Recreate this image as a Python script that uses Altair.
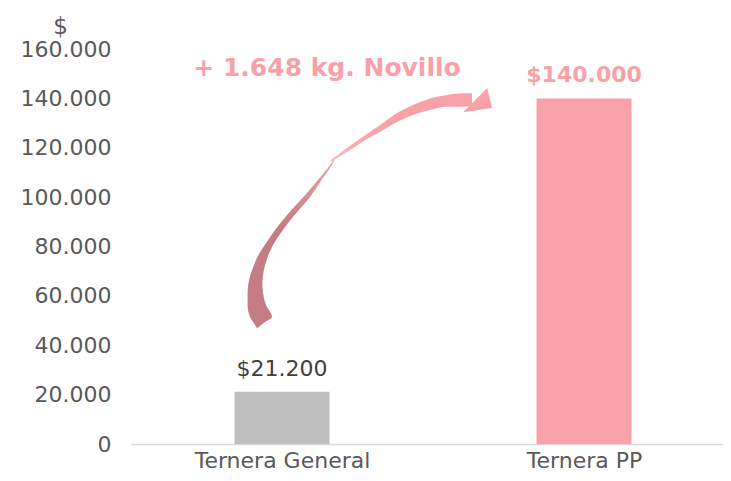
import altair as alt
import pandas as pd

# ---- chart data ----
categories = ["Ternera General", "Ternera PP"]
values = [21200, 140000]
bar_colors = ["#BFBFBF", "#F9A1A9"]
y_ticks = [0, 20000, 40000, 60000, 80000, 100000, 120000, 140000, 160000]

annotation_text = ["+ 1.648 kg. Novillo"]
annotation_x = [0.649]
annotation_y = [149000]

# curved arrow, lower (rising) part: for each $ level, left / right edge (category units)
arrow_low_y = [47000, 49400, 51400, 56300, 61200, 65200, 70500, 74500, 78600, 82600,
               86700, 90700, 94800, 100100, 106900, 113000, 115000]
arrow_low_l = [0.417, 0.404, 0.394, 0.386, 0.386, 0.389, 0.401, 0.414, 0.432, 0.454,
               0.477, 0.503, 0.531, 0.571, 0.619, 0.659, 0.671]
arrow_low_r = [0.419, 0.444, 0.467, 0.447, 0.437, 0.435, 0.440, 0.449, 0.462, 0.480,
               0.503, 0.528, 0.556, 0.593, 0.631, 0.665, 0.674]
# upper (flattening) part: for each x, top / bottom edge in $
arrow_up_x = [0.662, 0.715, 0.768, 0.825, 0.881, 0.934, 0.990, 1.046, 1.099, 1.129]
arrow_up_top = [115100, 119900, 124500, 129200, 134100, 137300, 140000, 141400, 142100, 142100]
arrow_up_bot = [114300, 118300, 122500, 126500, 130400, 133300, 135300, 136600, 136600, 136900]
head_x = [1.146]
head_y = [139300]

FONT = "DejaVu Sans"
PINK = "#F9A1A9"
DARK = "#C47D82"
AXIS_GREY = "#595959"
X_MAX = 1.96

bars = pd.DataFrame({
    "cat": categories,
    "value": values,
    "pos": [i + 0.5 for i in range(len(categories))],
    "color": bar_colors,
    "label": ["$" + f"{v:,}".replace(",", ".") for v in values],
})
low = pd.DataFrame({"y": arrow_low_y, "l": arrow_low_l, "r": arrow_low_r})
up = pd.DataFrame({"x": arrow_up_x, "top": arrow_up_top, "bot": arrow_up_bot})
ann = pd.DataFrame({"x": annotation_x, "y": annotation_y, "t": annotation_text})
head = pd.DataFrame({"x": head_x, "y": head_y})

xscale = alt.Scale(domain=[0, X_MAX], nice=False, zero=False, padding=0)
yscale = alt.Scale(domain=[0, 160000], nice=False, padding=0)

label_expr_x = f"datum.value < 1 ? '{categories[0]}' : '{categories[1]}'"

base = alt.Chart(bars)

bar_layer = base.mark_bar(size=95).encode(
    x=alt.X("pos:Q", scale=xscale,
            axis=alt.Axis(values=[0.5, 1.5], labelExpr=label_expr_x, grid=False, ticks=False,
                          domainColor="#D9D9D9", domainWidth=1.5, labelFontSize=22,
                          labelColor=AXIS_GREY, labelFont=FONT, labelPadding=6,
                          labelFlush=False),
            title=None),
    y=alt.Y("value:Q", scale=yscale,
            axis=alt.Axis(values=y_ticks,
                          labelExpr="replace(format(datum.value, ','), ',', '.')",
                          grid=False, domain=False, ticks=False, labelFontSize=22,
                          labelColor=AXIS_GREY, labelFont=FONT, labelPadding=20,
                          title="$", titleAngle=0, titleX=-71, titleY=-23,
                          titleAlign="center", titleBaseline="middle",
                          titleFontWeight="normal", titleFontSize=23,
                          titleColor=AXIS_GREY, titleFont=FONT)),
    color=alt.Color("color:N", scale=None),
)

lab_general = base.mark_text(dy=-16, baseline="alphabetic", fontSize=22, font=FONT,
                             color="#404040").encode(
    x=alt.X("pos:Q", scale=xscale), y=alt.Y("value:Q", scale=yscale), text="label:N"
).transform_filter(alt.datum.cat == categories[0])

lab_pp = base.mark_text(dy=-16, baseline="alphabetic", fontSize=22, font=FONT,
                        fontWeight="bold", color=PINK).encode(
    x=alt.X("pos:Q", scale=xscale), y=alt.Y("value:Q", scale=yscale), text="label:N"
).transform_filter(alt.datum.cat == categories[1])

low_grad = alt.LinearGradient(
    gradient="linear",
    stops=[alt.GradientStop(color=DARK, offset=0),
           alt.GradientStop(color=DARK, offset=0.6),
           alt.GradientStop(color="#E6A4A9", offset=1)],
    x1=0, x2=0, y1=1, y2=0,
)
up_grad = alt.LinearGradient(
    gradient="linear",
    stops=[alt.GradientStop(color="#F4B9BE", offset=0),
           alt.GradientStop(color=PINK, offset=0.3),
           alt.GradientStop(color=PINK, offset=1)],
    x1=0, x2=1, y1=0, y2=0,
)

arrow_low = alt.Chart(low).mark_area(orient="horizontal", interpolate="monotone",
                                     color=low_grad).encode(
    y=alt.Y("y:Q", scale=yscale),
    x=alt.X("l:Q", scale=xscale),
    x2="r:Q",
)

arrow_up = alt.Chart(up).mark_area(orient="vertical", interpolate="monotone",
                                   color=up_grad).encode(
    x=alt.X("x:Q", scale=xscale),
    y=alt.Y("top:Q", scale=yscale),
    y2="bot:Q",
)

head_layer = alt.Chart(head).mark_point(
    shape="M 0.56 -0.67 L 0.83 0.44 L -0.78 0.67 Z", filled=True, size=1296,
    color=PINK, opacity=1, strokeWidth=0
).encode(x=alt.X("x:Q", scale=xscale), y=alt.Y("y:Q", scale=yscale))

ann_layer = alt.Chart(ann).mark_text(baseline="alphabetic", align="center", fontSize=25,
                                     fontWeight="bold", font=FONT, color=PINK).encode(
    x=alt.X("x:Q", scale=xscale), y=alt.Y("y:Q", scale=yscale), text="t:N"
)

chart = alt.layer(bar_layer, lab_general, lab_pp, arrow_low, arrow_up, head_layer,
                  ann_layer).properties(
    width=592, height=395,
    padding={"left": 123, "top": 41, "right": 0, "bottom": 29},
    autosize=alt.AutoSizeParams(type="none"),
).configure_view(stroke=None)

chart.save("out.html", embed_options={"renderer": "svg", "actions": False})
